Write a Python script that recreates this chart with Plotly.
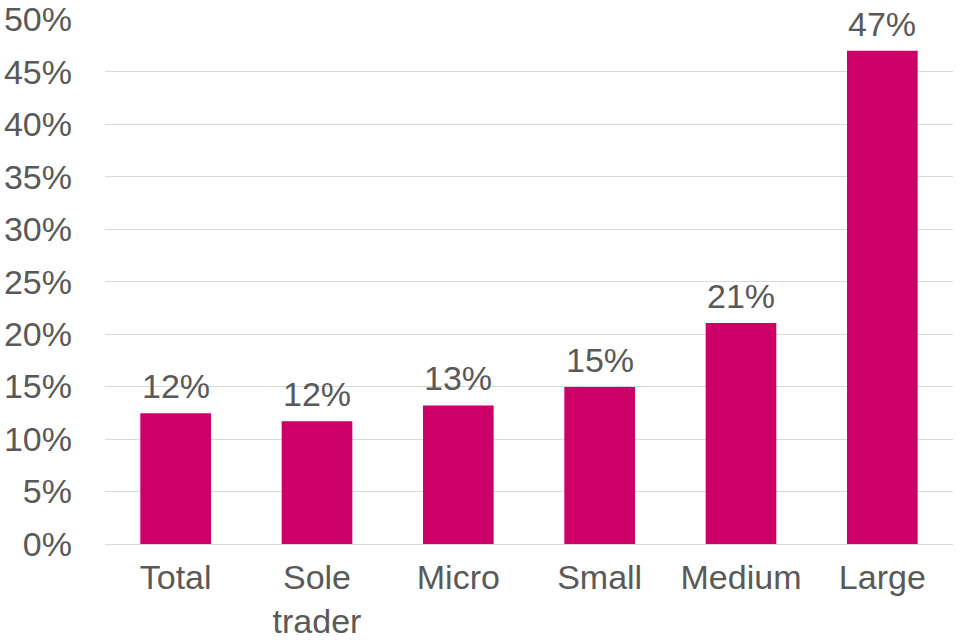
import plotly.graph_objects as go

categories = ["Total", "Sole<br>trader", "Micro", "Small", "Medium", "Large"]
values = [12.45, 11.7, 13.2, 14.95, 21.05, 47.0]
y_ticks = [0, 5, 10, 15, 20, 25, 30, 35, 40, 45, 50]

text_color = "#595959"
bar_color = "#CC0066"
font_family = "Liberation Sans, Arial, sans-serif"
fsize = 34

fig = go.Figure(
    go.Bar(
        x=categories,
        y=values,
        marker=dict(color=bar_color, line=dict(width=0)),
        hoverinfo="x+y",
    )
)

for c, v in zip(categories, values):
    fig.add_annotation(
        x=c, y=v, text=f"{v:.0f}%", showarrow=False,
        yanchor="bottom", yshift=6,
        font=dict(size=fsize, color=text_color, family=font_family),
    )

fig.update_layout(
    width=960,
    height=640,
    margin=dict(l=105, r=7, t=19, b=96, autoexpand=False),
    paper_bgcolor="white",
    plot_bgcolor="white",
    bargap=0.5,
    showlegend=False,
    font=dict(family=font_family, color=text_color, size=fsize),
)

fig.update_yaxes(
    range=[0, 50.02],
    tickvals=y_ticks,
    ticktext=[f"{v}%" for v in y_ticks],
    showgrid=True,
    gridcolor="#d9d9d9",
    gridwidth=1,
    zeroline=False,
    showline=False,
    ticks="",
    automargin=False,
    ticklabelstandoff=32,
    ticklabeloverflow="allow",
    tickfont=dict(size=fsize, color=text_color),
)

fig.update_xaxes(
    showline=True,
    linecolor="#d9d9d9",
    linewidth=1,
    ticks="",
    automargin=False,
    ticklabelstandoff=3,
    ticklabeloverflow="allow",
    tickfont=dict(size=fsize, color=text_color),
)

fig.write_html(
    "out.html",
    config={"displayModeBar": False},
    post_script="document.body.style.margin='0';document.body.style.overflow='hidden';",
)
